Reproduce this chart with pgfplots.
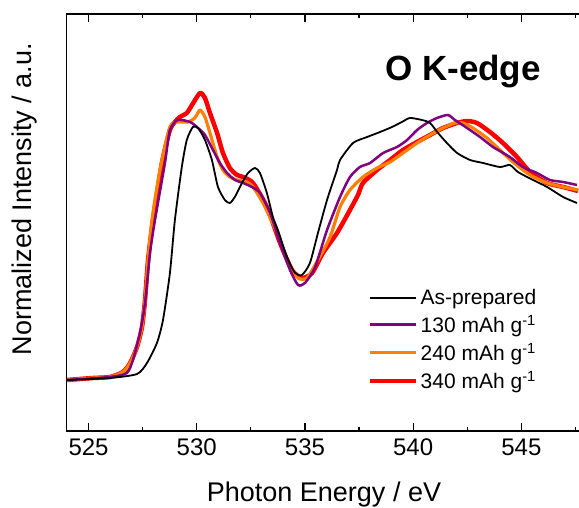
\documentclass[border=0pt]{standalone}
\usepackage{pgfplots}
\pgfplotsset{compat=1.18}
\usepackage{fontspec}
\setmainfont{Liberation Sans}
\definecolor{cpurple}{RGB}{128,0,128}
\definecolor{corange}{RGB}{255,128,0}
\definecolor{cred}{RGB}{255,0,0}
\begin{document}
\begin{tikzpicture}
\begin{axis}[
  at={(0pt,0pt)}, anchor=south west,
  scale only axis, width=514.2pt, height=417pt,
  xmin=524, xmax=547.76, ymin=0, ymax=417,
  xtick={525,530,535,540,545},
  minor xtick={527.5,532.5,537.5,542.5,547.5},
  ytick=\empty,
  tick align=inside,
  major tick length=8pt, minor tick length=4pt,
  every tick/.style={black, line width=1.2pt},
  axis line style={line width=1.2pt},
  /pgf/number format/assume math mode=true,
  tick label style={font=\fontsize{24}{26}\selectfont},
  xticklabel style={yshift=-4pt},
  xlabel={Photon Energy / eV},
  xlabel style={font=\fontsize{27}{30}\selectfont, at={(axis description cs:0.5,-0.170)}, anchor=base},
  ylabel={Normalized Intensity / a.u.},
  ylabel style={font=\fontsize{27}{30}\selectfont, at={(axis description cs:-0.0815,0.556)}, anchor=center, rotate=0},
  legend style={draw=none, fill=none, inner sep=0pt, at={(axis description cs:0.5856,0.345)}, anchor=north west,
    font=\fontsize{21}{25}\selectfont, row sep=5pt, cells={anchor=west}},
  legend image code/.code={\draw[#1] (0pt,0pt) -- (46pt,0pt);},
  reverse legend,
  clip=true,
  every axis plot/.append style={smooth, tension=0.4, line join=round},
]
\addplot[cred, line width=4.5pt] coordinates {
(524.00,51)(525.20,53)(525.99,54)(526.59,59)(526.92,68)(527.24,84)(527.47,104)(527.61,131)(527.75,171)(527.98,211)
(528.39,268)(528.76,301)(528.99,309)(529.22,314)(529.54,318)(529.78,326)(530.15,338)(530.38,333)(530.61,318)(530.94,298)
(531.21,278)(531.53,263)(531.86,256)(532.14,254)(532.60,248)(533.24,224)(533.85,188)(534.40,161)(534.86,153)(535.33,158)
(535.83,178)(536.48,198)(537.08,221)(537.45,236)(537.68,248)(538.33,261)(538.93,271)(539.53,281)(540.18,289)(540.78,296)
(541.38,303)(542.03,308)(542.49,310)(542.95,308)(543.55,299)(544.15,288)(544.80,274)(545.40,259)(546.19,248)(546.93,244)(547.62,240)
};
\addlegendentry{340 mAh g\textsuperscript{-1}}
\addplot[corange, line width=3.2pt] coordinates {
(524.00,51)(525.20,53)(525.99,54)(526.59,59)(526.92,68)(527.24,84)(527.47,104)(527.61,131)(527.75,171)(527.93,211)
(528.30,261)(528.76,304)(529.13,309)(529.59,309)(529.91,313)(530.15,321)(530.38,314)(530.61,298)(530.94,274)(531.21,261)
(531.53,254)(531.86,251)(532.32,249)(532.60,244)(533.06,228)(533.71,198)(534.22,168)(534.68,153)(535.09,153)(535.60,171)
(536.16,194)(536.62,224)(537.08,241)(537.68,254)(538.33,263)(538.93,269)(539.53,278)(540.18,288)(540.78,296)(541.38,303)
(541.93,308)(542.30,308)(542.76,303)(543.41,293)(544.01,281)(544.61,269)(545.40,256)(546.19,248)(546.93,244)(547.62,241)
};
\addlegendentry{240 mAh g\textsuperscript{-1}}
\addplot[cpurple, line width=2.5pt] coordinates {
(524.00,51)(525.99,54)(526.77,58)(527.05,71)(527.38,98)(527.61,128)(527.84,178)(528.07,211)(528.53,268)(528.76,301)
(529.13,311)(529.69,309)(530.06,303)(530.38,296)(530.75,281)(531.07,268)(531.40,258)(531.77,251)(532.14,248)(532.55,244)
(532.92,238)(533.39,218)(533.85,188)(534.31,161)(534.68,146)(535.00,148)(535.47,164)(536.02,201)(536.62,234)(537.08,254)
(537.54,264)(538.01,268)(538.61,278)(539.25,284)(539.72,291)(540.18,301)(540.64,308)(541.10,313)(541.61,316)(541.93,311)
(542.49,303)(543.09,294)(543.69,284)(544.47,274)(545.07,264)(545.72,258)(546.32,251)(546.93,249)(547.57,246)
};
\addlegendentry{130 mAh g\textsuperscript{-1}}
\addplot[black, line width=1.8pt] coordinates {
(524.00,51)(525.99,53)(527.24,57)(527.70,68)(528.16,88)(528.44,111)(528.76,158)(528.99,211)(529.31,264)(529.54,291)
(529.82,304)(530.06,303)(530.38,291)(530.70,271)(530.98,244)(531.30,231)(531.53,228)(531.76,234)(532.09,248)(532.37,258)
(532.69,263)(532.92,258)(533.24,238)(533.52,214)(533.75,201)(534.17,174)(534.54,158)(534.86,156)(535.23,168)(535.60,198)
(536.02,231)(536.48,261)(536.62,271)(537.22,288)(537.87,294)(538.47,299)(539.02,304)(539.48,309)(539.85,313)(540.41,311)
(540.78,308)(541.15,298)(541.56,288)(542.03,278)(542.63,271)(543.23,268)(544.01,264)(544.47,266)(544.84,259)(545.54,251)
(546.19,244)(546.93,234)(547.57,228)
};
\addlegendentry{As-prepared}
\node[font=\fontsize{35}{40}\selectfont\bfseries, anchor=base] at (axis description cs:0.7703,0.8417) {O K-edge};
\end{axis}
\pgfresetboundingbox
\useasboundingbox (-66.9pt,-76pt) rectangle (512.1pt,431pt);
\end{tikzpicture}
\end{document}
